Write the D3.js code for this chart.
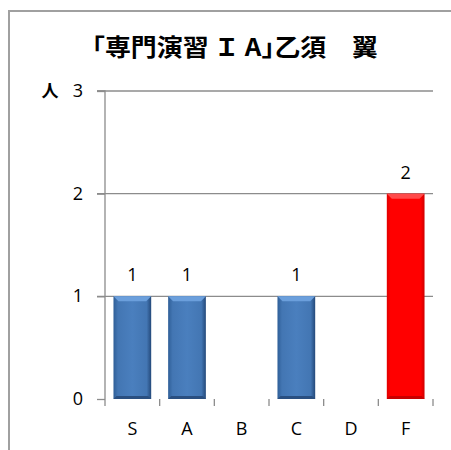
<!DOCTYPE html>
<html><head><meta charset="utf-8">
<script src="https://cdn.jsdelivr.net/npm/d3@7"></script>
<style>html,body{margin:0;padding:0;background:#fff;}svg{display:block;}</style>
</head><body>
<svg id="c" width="451" height="450"></svg>
<script>
const title = "｢専門演習\u2009Ｉ\u2009A｣乙須　翼";
const yUnit = "人";
const categories = ["S","A","B","C","D","F"];
const values = [1,1,0,1,0,2];
const highlight = ["F"];
const yTicks = [0,1,2,3];

const svg = d3.select("#c");
const m = {left:105, right:433, top:91, bottom:399};
const numFont = "Open Sans, Liberation Sans, sans-serif";

// frame
svg.append("path").attr("d","M9,452 L9,11 L455,11").attr("fill","none")
  .attr("stroke","#a0a0a0").attr("stroke-width",2);

const x = d3.scaleBand().domain(categories).range([m.left,m.right]).paddingInner(0.31).paddingOuter(0.155);
const xb = d3.scaleBand().domain(categories).range([m.left,m.right]);
const y = d3.scaleLinear().domain([0,3]).range([m.bottom,m.top]);

const defs = svg.append("defs");
function grad(id, stops){
  const g = defs.append("linearGradient").attr("id",id).attr("x1","0").attr("x2","1").attr("y1","0").attr("y2","0");
  stops.forEach(s=>g.append("stop").attr("offset",s[0]).attr("stop-color",s[1]));
}
grad("gBlue",[[0,"#2f5f98"],[0.12,"#4376b3"],[0.5,"#4a7fbe"],[0.88,"#4376b3"],[1,"#24497a"]]);
grad("gRed",[[0,"#e00000"],[0.1,"#ff0000"],[0.9,"#ff0000"],[1,"#d00000"]]);

// gridlines
const gy = svg.append("g").attr("class","grid");
gy.selectAll("line").data(yTicks.filter(d=>d>0)).join("line")
  .attr("x1",m.left-8).attr("x2",m.right).attr("y1",d=>y(d)).attr("y2",d=>y(d))
  .attr("stroke","#8c8c8c").attr("stroke-width",1.3);

// y axis
const yAxis = d3.axisLeft(y).tickValues(yTicks).tickSize(8).tickPadding(14).tickFormat(d3.format("d"));
const ya = svg.append("g").attr("transform",`translate(${m.left},0)`).call(yAxis)
  .attr("font-family",numFont).attr("font-size",18);
ya.select(".domain").attr("stroke","#8c8c8c").attr("stroke-width",1.3).attr("d",`M-8,${m.top}H0V${m.bottom}`);
ya.selectAll(".tick line").attr("stroke","#8c8c8c").attr("stroke-width",1.3);
ya.selectAll(".tick text").attr("fill","#000").attr("dy","0.3em");

// x axis
const xAxis = d3.axisBottom(xb).tickSize(0).tickPadding(31);
const xa = svg.append("g").attr("transform",`translate(0,${m.bottom})`).call(xAxis)
  .attr("font-family",numFont).attr("font-size",18);
xa.select(".domain").remove();
xa.selectAll(".tick text").attr("fill","#000").attr("dy","0.3em");
// category boundary ticks
const bounds = categories.map(c=>xb(c)).concat([xb(categories[categories.length-1])+xb.bandwidth()]);
svg.append("g").selectAll("line").data(bounds).join("line")
  .attr("x1",d=>d).attr("x2",d=>d).attr("y1",m.bottom).attr("y2",m.bottom+7)
  .attr("stroke","#8c8c8c").attr("stroke-width",1.3);

// bars
const data = categories.map((c,i)=>({c, v:values[i]})).filter(d=>d.v>0);
const bars = svg.append("g");
bars.selectAll("rect").data(data).join("rect")
  .attr("x",d=>x(d.c)).attr("width",x.bandwidth())
  .attr("y",d=>y(d.v)).attr("height",d=>y(0)-y(d.v))
  .attr("fill",d=>highlight.includes(d.c)?"url(#gRed)":"url(#gBlue)");
// top bevel
bars.selectAll("path.bev").data(data).join("path").attr("class","bev")
  .attr("d",d=>{const x0=x(d.c),w=x.bandwidth(),t=y(d.v),b=5;
    return `M${x0},${t}H${x0+w}L${x0+w-b},${t+b}H${x0+b}Z`;})
  .attr("fill",d=>highlight.includes(d.c)?"#ff4a4a":"#6b9fdc");
// bottom shade
bars.selectAll("path.bot").data(data).join("path").attr("class","bot")
  .attr("d",d=>{const x0=x(d.c),w=x.bandwidth(),bt=y(0),b=3;
    return `M${x0},${bt}H${x0+w}L${x0+w-b},${bt-b}H${x0+b}Z`;})
  .attr("fill",d=>highlight.includes(d.c)?"#c80000":"#2a4f80");

// value labels
svg.append("g").selectAll("text").data(data).join("text")
  .attr("x",d=>x(d.c)+x.bandwidth()/2).attr("y",d=>y(d.v)-15)
  .attr("text-anchor","middle").attr("font-family",numFont)
  .attr("font-size",18).attr("fill","#000").text(d=>d.v);

// title
svg.append("text").attr("x",235).attr("y",56).attr("text-anchor","middle")
  .attr("font-family","Noto Sans CJK JP, sans-serif").attr("font-weight","bold")
  .attr("font-size",24).attr("textLength",286).attr("lengthAdjust","spacingAndGlyphs").text(title);
// unit
svg.append("text").attr("x",50).attr("y",97).attr("text-anchor","middle")
  .attr("font-family","Noto Sans CJK JP, sans-serif").attr("font-weight","bold")
  .attr("font-size",17).text(yUnit);
</script>
</body></html>
